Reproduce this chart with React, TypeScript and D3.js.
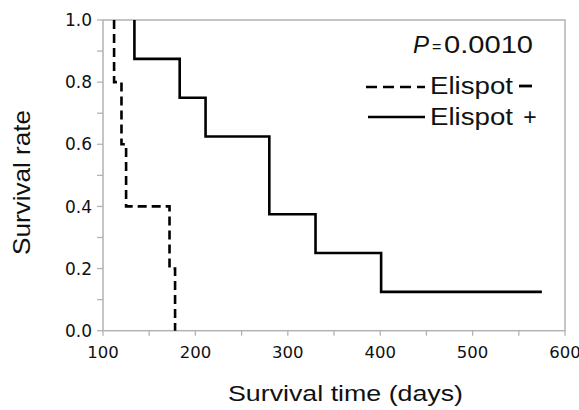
import React from "react";
import * as d3 from "d3";

// Kaplan-Meier steps
const negTimes = [112, 120, 125, 172, 178];
const negSurv = [0.8, 0.6, 0.4, 0.2, 0.0];
const posTimes = [134, 183, 211, 280, 330, 401];
const posSurv = [0.875, 0.75, 0.625, 0.375, 0.25, 0.125];
const posLastFollowUp = 575;

const xTicks = [100, 200, 300, 400, 500, 600];
const xMinor = [150, 250, 350, 450, 550];
const yTicks = [0, 0.2, 0.4, 0.6, 0.8, 1.0];
const yMinor = [0.1, 0.3, 0.5, 0.7, 0.9];

const legendLabels = ["Elispot", "Elispot"];

function kmPoints(times: number[], surv: number[], end?: number): [number, number][] {
  const pts: [number, number][] = [[times[0], 1]];
  times.forEach((t, i) => pts.push([t, surv[i]]));
  if (end !== undefined) pts.push([end, surv[surv.length - 1]]);
  return pts;
}

export default function App() {
  const width = 579;
  const height = 410;
  const left = 103;
  const right = 565;
  const top = 20;
  const bottom = 330.7;

  const x = d3.scaleLinear().domain([100, 600]).range([left, right]);
  const y = d3.scaleLinear().domain([0, 1]).range([bottom, top]);

  const line = d3
    .line<[number, number]>()
    .x((d) => x(d[0]))
    .y((d) => y(d[1]))
    .curve(d3.curveStepAfter);

  const negPath = line(kmPoints(negTimes, negSurv)) || "";
  const posPath = line(kmPoints(posTimes, posSurv, posLastFollowUp)) || "";

  const axisColor = "#b3b3b3";
  const tickFont = "DejaVu Sans, sans-serif";
  const labelFont = "Liberation Sans, Arial, sans-serif";

  return (
    <svg
      width={width}
      height={height}
      style={{ position: "absolute", left: 0, top: 0, background: "#fff" }}
    >
      {/* frame */}
      <rect
        x={left}
        y={top}
        width={right - left}
        height={bottom - top}
        fill="none"
        stroke={axisColor}
        strokeWidth={1.5}
      />
      {/* y ticks */}
      {yTicks.concat(yMinor).map((t) => (
        <line key={"y" + t} x1={left - 6} x2={left} y1={y(t)} y2={y(t)} stroke={axisColor} strokeWidth={1.3} />
      ))}
      {yTicks.map((t) => (
        <text
          key={"yl" + t}
          x={92}
          y={y(t)}
          dy="0.36em"
          textAnchor="end"
          fontFamily={tickFont}
          fontSize={17}
          fill="#111"
        >
          {t.toFixed(1)}
        </text>
      ))}
      {/* x ticks */}
      {xTicks.concat(xMinor).map((t) => (
        <line key={"x" + t} x1={x(t)} x2={x(t)} y1={bottom} y2={bottom + 5} stroke={axisColor} strokeWidth={1.3} />
      ))}
      {xTicks.map((t) => (
        <text
          key={"xl" + t}
          x={x(t)}
          y={358}
          textAnchor="middle"
          fontFamily={tickFont}
          fontSize={16.5}
          fill="#111"
        >
          {t}
        </text>
      ))}

      {/* curves */}
      <path d={negPath} fill="none" stroke="#000" strokeWidth={2.6} strokeDasharray="9,5" />
      <path d={posPath} fill="none" stroke="#000" strokeWidth={2.6} />

      {/* axis titles */}
      <text
        x={345.5}
        y={401}
        textAnchor="middle"
        fontFamily={labelFont}
        fontSize={22}
        textLength={235}
        lengthAdjust="spacingAndGlyphs"
        fill="#111"
      >
        Survival time (days)
      </text>
      <text
        transform="translate(30,182.5) rotate(-90)"
        textAnchor="middle"
        fontFamily={labelFont}
        fontSize={24}
        textLength={145}
        lengthAdjust="spacingAndGlyphs"
        fill="#111"
      >
        Survival rate
      </text>

      {/* p value */}
      <text x={413} y={53} fontFamily={labelFont} fontSize={24} fontStyle="italic" fill="#111">
        P
      </text>
      <text x={432} y={52} fontFamily={labelFont} fontSize={16} fill="#111">
        =
      </text>
      <text
        x={444}
        y={53}
        fontFamily={labelFont}
        fontSize={24}
        textLength={89}
        lengthAdjust="spacingAndGlyphs"
        fill="#111"
      >
        0.0010
      </text>

      {/* legend */}
      <line x1={366} x2={425} y1={87} y2={87} stroke="#000" strokeWidth={2.6} strokeDasharray="11,6" />
      <text
        x={430}
        y={94}
        fontFamily={labelFont}
        fontSize={23}
        textLength={83}
        lengthAdjust="spacingAndGlyphs"
        fill="#111"
      >
        {legendLabels[0]}
      </text>
      <line x1={519} x2={532} y1={86} y2={86} stroke="#000" strokeWidth={2.8} />

      <line x1={368} x2={425} y1={117} y2={117} stroke="#000" strokeWidth={2.6} />
      <text
        x={430}
        y={125}
        fontFamily={labelFont}
        fontSize={23}
        textLength={83}
        lengthAdjust="spacingAndGlyphs"
        fill="#111"
      >
        {legendLabels[1]}
      </text>
      <text x={530} y={125} textAnchor="middle" fontFamily={labelFont} fontSize={23} fill="#111">
        +
      </text>
    </svg>
  );
}
